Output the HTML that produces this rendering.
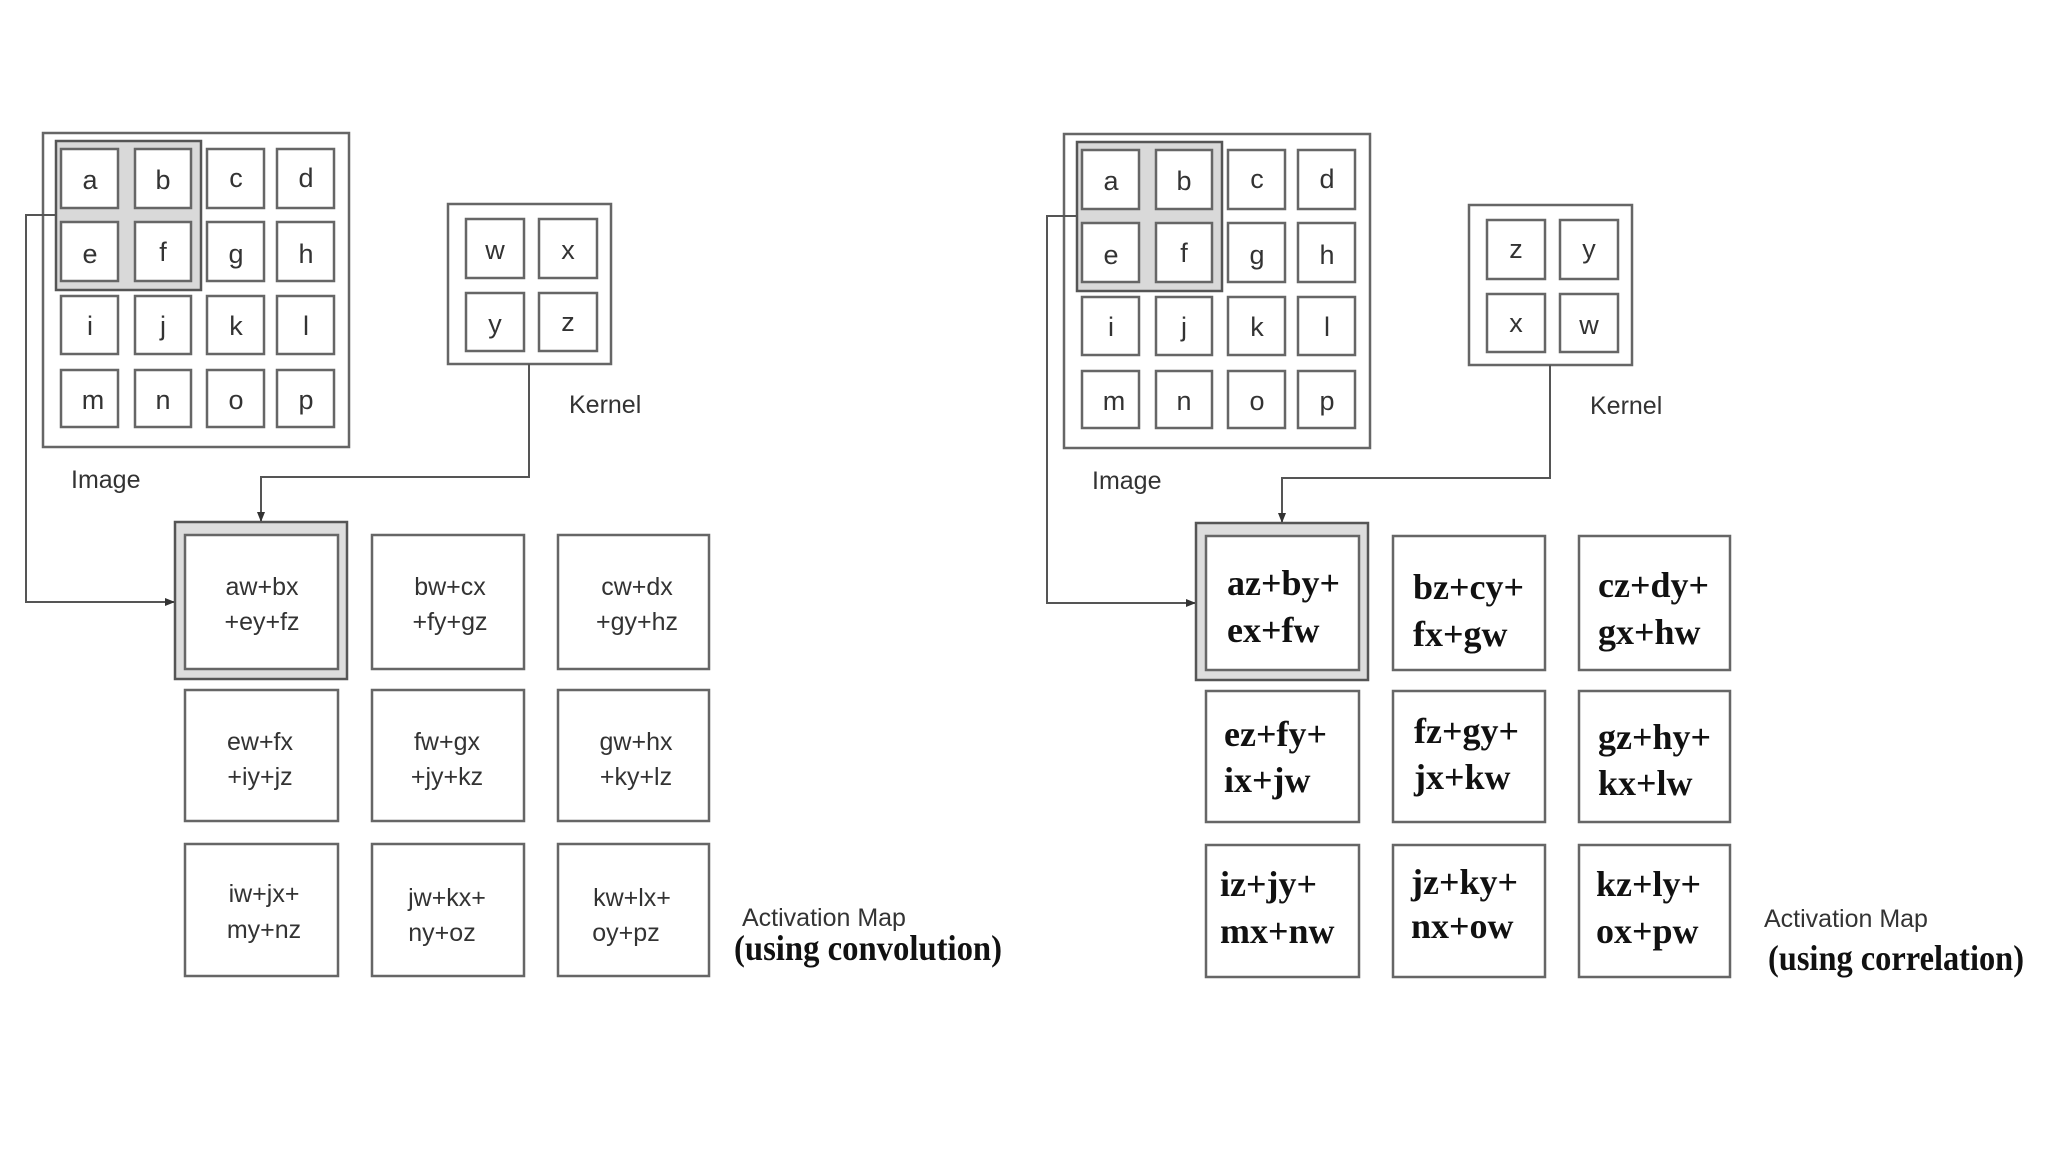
<!DOCTYPE html>
<html><head><meta charset="utf-8"><style>
html,body{margin:0;padding:0;background:#fff;}
svg{display:block;}
.c{fill:#fff;stroke:#666;stroke-width:2.5;}
.o{fill:#fff;stroke:#666;stroke-width:2.5;}
.h{fill:#d9d9d9;stroke:#555;stroke-width:2.5;}
.l{font-family:"Liberation Sans",sans-serif;font-size:27px;fill:#333;text-anchor:middle;}
.s{font-family:"Liberation Sans",sans-serif;font-size:25px;fill:#333;text-anchor:middle;}
.lb{font-family:"Liberation Sans",sans-serif;font-size:25px;fill:#333;}
.b{font-family:"Liberation Serif",serif;font-weight:bold;font-size:36px;fill:#111;}
.w{fill:none;stroke:#555;stroke-width:2;}
</style></head><body>
<svg width="2048" height="1152" viewBox="0 0 2048 1152" xmlns="http://www.w3.org/2000/svg">
<defs><marker id="a" markerWidth="10" markerHeight="10" refX="9" refY="5" orient="auto" markerUnits="userSpaceOnUse"><path d="M0,1 L10,5 L0,9 z" fill="#333"/></marker></defs>

<!-- LEFT PANEL -->
<g>
<rect class="o" x="43" y="133" width="306" height="314"/>
<rect class="h" x="56" y="141" width="145" height="149"/>
<g>
<rect class="c" x="61" y="149" width="57" height="59"/><rect class="c" x="135" y="149" width="56" height="59"/><rect class="c" x="207" y="149" width="57" height="59"/><rect class="c" x="277" y="149" width="57" height="59"/>
<rect class="c" x="61" y="222" width="57" height="59"/><rect class="c" x="135" y="222" width="56" height="59"/><rect class="c" x="207" y="222" width="57" height="59"/><rect class="c" x="277" y="222" width="57" height="59"/>
<rect class="c" x="61" y="296" width="57" height="58"/><rect class="c" x="135" y="296" width="56" height="58"/><rect class="c" x="207" y="296" width="57" height="58"/><rect class="c" x="277" y="296" width="57" height="58"/>
<rect class="c" x="61" y="370" width="57" height="57"/><rect class="c" x="135" y="370" width="56" height="57"/><rect class="c" x="207" y="370" width="57" height="57"/><rect class="c" x="277" y="370" width="57" height="57"/>
</g>
<text class="l" x="90" y="189">a</text><text class="l" x="163" y="189">b</text><text class="l" x="236" y="187">c</text><text class="l" x="306" y="187">d</text>
<text class="l" x="90" y="263">e</text><text class="l" x="163" y="261">f</text><text class="l" x="236" y="263">g</text><text class="l" x="306" y="263">h</text>
<text class="l" x="90" y="335">i</text><text class="l" x="163" y="335">j</text><text class="l" x="236" y="335">k</text><text class="l" x="306" y="335">l</text>
<text class="l" x="93" y="409">m</text><text class="l" x="163" y="409">n</text><text class="l" x="236" y="409">o</text><text class="l" x="306" y="409">p</text>
<text class="lb" x="71" y="488">Image</text>

<rect class="o" x="448" y="204" width="163" height="160"/>
<rect class="c" x="466" y="219" width="58" height="59"/><rect class="c" x="539" y="219" width="58" height="59"/>
<rect class="c" x="466" y="293" width="58" height="58"/><rect class="c" x="539" y="293" width="58" height="58"/>
<text class="l" x="495" y="259">w</text><text class="l" x="568" y="259">x</text>
<text class="l" x="495" y="333">y</text><text class="l" x="568" y="331">z</text>
<text class="lb" x="569" y="413">Kernel</text>

<polyline class="w" points="529,364 529,477 261,477 261,521" marker-end="url(#a)"/>
<polyline class="w" points="56,215 26,215 26,602 174,602" marker-end="url(#a)"/>

<rect class="h" x="175" y="522" width="172" height="157" style="fill:#ddd"/>
<rect class="c" x="185" y="535" width="153" height="134"/>
<rect class="c" x="372" y="535" width="152" height="134"/>
<rect class="c" x="558" y="535" width="151" height="134"/>
<rect class="c" x="185" y="690" width="153" height="131"/>
<rect class="c" x="372" y="690" width="152" height="131"/>
<rect class="c" x="558" y="690" width="151" height="131"/>
<rect class="c" x="185" y="844" width="153" height="132"/>
<rect class="c" x="372" y="844" width="152" height="132"/>
<rect class="c" x="558" y="844" width="151" height="132"/>
<text class="s" x="262" y="595">aw+bx</text><text class="s" x="262" y="630">+ey+fz</text>
<text class="s" x="450" y="595">bw+cx</text><text class="s" x="450" y="630">+fy+gz</text>
<text class="s" x="637" y="595">cw+dx</text><text class="s" x="637" y="630">+gy+hz</text>
<text class="s" x="260" y="750">ew+fx</text><text class="s" x="260" y="785">+iy+jz</text>
<text class="s" x="447" y="750">fw+gx</text><text class="s" x="447" y="785">+jy+kz</text>
<text class="s" x="636" y="750">gw+hx</text><text class="s" x="636" y="785">+ky+lz</text>
<text class="s" x="264" y="902">iw+jx+</text><text class="s" x="264" y="938">my+nz</text>
<text class="s" x="447" y="906">jw+kx+</text><text class="s" x="442" y="941">ny+oz</text>
<text class="s" x="632" y="906">kw+lx+</text><text class="s" x="626" y="941">oy+pz</text>
<text class="lb" x="742" y="926">Activation Map</text>
<text class="b" x="734" y="960" style="font-size:36px" textLength="268" lengthAdjust="spacingAndGlyphs">(using convolution)</text>
</g>

<!-- RIGHT PANEL -->
<g transform="translate(1021,1)">
<rect class="o" x="43" y="133" width="306" height="314"/>
<rect class="h" x="56" y="141" width="145" height="149"/>
<rect class="c" x="61" y="149" width="57" height="59"/><rect class="c" x="135" y="149" width="56" height="59"/><rect class="c" x="207" y="149" width="57" height="59"/><rect class="c" x="277" y="149" width="57" height="59"/>
<rect class="c" x="61" y="222" width="57" height="59"/><rect class="c" x="135" y="222" width="56" height="59"/><rect class="c" x="207" y="222" width="57" height="59"/><rect class="c" x="277" y="222" width="57" height="59"/>
<rect class="c" x="61" y="296" width="57" height="58"/><rect class="c" x="135" y="296" width="56" height="58"/><rect class="c" x="207" y="296" width="57" height="58"/><rect class="c" x="277" y="296" width="57" height="58"/>
<rect class="c" x="61" y="370" width="57" height="57"/><rect class="c" x="135" y="370" width="56" height="57"/><rect class="c" x="207" y="370" width="57" height="57"/><rect class="c" x="277" y="370" width="57" height="57"/>
<text class="l" x="90" y="189">a</text><text class="l" x="163" y="189">b</text><text class="l" x="236" y="187">c</text><text class="l" x="306" y="187">d</text>
<text class="l" x="90" y="263">e</text><text class="l" x="163" y="261">f</text><text class="l" x="236" y="263">g</text><text class="l" x="306" y="263">h</text>
<text class="l" x="90" y="335">i</text><text class="l" x="163" y="335">j</text><text class="l" x="236" y="335">k</text><text class="l" x="306" y="335">l</text>
<text class="l" x="93" y="409">m</text><text class="l" x="163" y="409">n</text><text class="l" x="236" y="409">o</text><text class="l" x="306" y="409">p</text>
<text class="lb" x="71" y="488">Image</text>

<rect class="o" x="448" y="204" width="163" height="160"/>
<rect class="c" x="466" y="219" width="58" height="59"/><rect class="c" x="539" y="219" width="58" height="59"/>
<rect class="c" x="466" y="293" width="58" height="58"/><rect class="c" x="539" y="293" width="58" height="58"/>
<text class="l" x="495" y="257">z</text><text class="l" x="568" y="257">y</text>
<text class="l" x="495" y="331">x</text><text class="l" x="568" y="333">w</text>
<text class="lb" x="569" y="413">Kernel</text>

<polyline class="w" points="529,364 529,477 261,477 261,521" marker-end="url(#a)"/>
<polyline class="w" points="56,215 26,215 26,602 174,602" marker-end="url(#a)"/>

<rect class="h" x="175" y="522" width="172" height="157" style="fill:#ddd"/>
<rect class="c" x="185" y="535" width="153" height="134"/>
<rect class="c" x="372" y="535" width="152" height="134"/>
<rect class="c" x="558" y="535" width="151" height="134"/>
<rect class="c" x="185" y="690" width="153" height="131"/>
<rect class="c" x="372" y="690" width="152" height="131"/>
<rect class="c" x="558" y="690" width="151" height="131"/>
<rect class="c" x="185" y="844" width="153" height="132"/>
<rect class="c" x="372" y="844" width="152" height="132"/>
<rect class="c" x="558" y="844" width="151" height="132"/>
<text class="b" x="206" y="594">az+by+</text><text class="b" x="206" y="641">ex+fw</text>
<text class="b" x="392" y="598">bz+cy+</text><text class="b" x="392" y="645">fx+gw</text>
<text class="b" x="577" y="596">cz+dy+</text><text class="b" x="577" y="643">gx+hw</text>
<text class="b" x="203" y="745">ez+fy+</text><text class="b" x="203" y="791">ix+jw</text>
<text class="b" x="393" y="742">fz+gy+</text><text class="b" x="393" y="788">jx+kw</text>
<text class="b" x="577" y="748">gz+hy+</text><text class="b" x="577" y="794">kx+lw</text>
<text class="b" x="199" y="895">iz+jy+</text><text class="b" x="199" y="942">mx+nw</text>
<text class="b" x="390" y="893">jz+ky+</text><text class="b" x="390" y="937">nx+ow</text>
<text class="b" x="575" y="895">kz+ly+</text><text class="b" x="575" y="942">ox+pw</text>
<text class="lb" x="743" y="926">Activation Map</text>
<text class="b" x="747" y="969" textLength="256" lengthAdjust="spacingAndGlyphs">(using correlation)</text>
</g>
</svg>
</body></html>
